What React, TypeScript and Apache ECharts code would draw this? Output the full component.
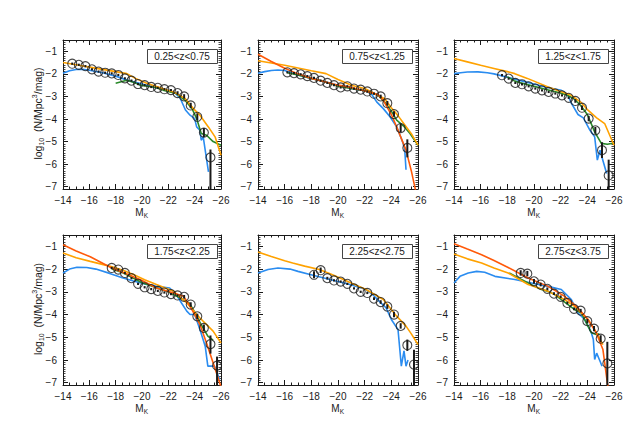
import React, { useEffect, useRef } from "react";
import * as echarts from "echarts";

// ---------- labels / ticks ----------
const panelLabels = ["0.25<z<0.75", "0.75<z<1.25", "1.25<z<1.75", "1.75<z<2.25", "2.25<z<2.75", "2.75<z<3.75"];
const yTickValues = [-7, -6, -5, -4, -3, -2, -1];
const xRange = [-26, -14];
const yRange = [-7.1, -0.5];

// ---------- panel 1 : 0.25<z<0.75 ----------
const p1Blue = [[-14,-1.97],[-14.5,-1.86],[-15,-1.81],[-15.5,-1.8],[-16,-1.84],[-17,-1.95],[-18,-2.1],[-19,-2.3],[-20,-2.45],[-21,-2.6],[-22,-2.72],[-22.5,-2.85],[-22.9,-3.08],[-23.3,-3.6],[-23.65,-3.83],[-24.0,-3.98],[-24.15,-4.35],[-24.4,-4.5],[-24.5,-4.94],[-24.65,-4.79],[-24.8,-5.38],[-25.05,-6.34]];
const p1Green = [[-18,-2.42],[-18.85,-2.28],[-19.4,-2.38],[-19.9,-2.5],[-20.4,-2.55],[-20.9,-2.58],[-21.6,-2.72],[-22.6,-2.87],[-23.27,-3.17],[-23.8,-3.54],[-24.15,-3.98],[-24.5,-4.64],[-24.9,-4.72],[-25.4,-5.0],[-26,-5.16]];
const p1Orange = [[-14,-1.5],[-15,-1.6],[-16,-1.7],[-17,-1.8],[-18,-1.9],[-18.85,-1.99],[-19.5,-2.2],[-20.4,-2.43],[-21.4,-2.62],[-22.4,-2.8],[-23.27,-3.09],[-23.9,-3.54],[-24.4,-3.83],[-25.04,-4.35],[-25.55,-4.79],[-26,-5.6]];
const p1Red: number[][] = [];
const p1M = [-14.7,-15.2,-15.7,-16.2,-16.7,-17.2,-17.7,-18.2,-18.7,-19.2,-19.7,-20.2,-20.7,-21.2,-21.7,-22.2,-22.7,-23.2,-23.7,-24.2,-24.7,-25.2];
const p1Y = [-1.55,-1.6,-1.66,-1.8,-1.9,-1.95,-1.98,-2.05,-2.2,-2.3,-2.45,-2.5,-2.58,-2.62,-2.68,-2.72,-2.85,-3.0,-3.4,-3.9,-4.6,-5.7];
const p1ErrHi = [0.05,0.05,0.05,0.05,0.05,0.05,0.05,0.05,0.05,0.05,0.05,0.05,0.05,0.05,0.05,0.05,0.08,0.1,0.12,0.15,0.2,0.35];
const p1ErrLo = [0.05,0.05,0.05,0.05,0.05,0.05,0.05,0.05,0.05,0.05,0.05,0.05,0.05,0.05,0.05,0.05,0.08,0.1,0.12,0.15,0.2,2.0];

// ---------- panel 2 : 0.75<z<1.25 ----------
const p2Blue = [[-14,-1.97],[-14.5,-1.9],[-15,-1.85],[-15.5,-1.83],[-16,-1.85],[-16.5,-1.95],[-17,-2.05],[-18,-2.2],[-19,-2.35],[-20,-2.5],[-21,-2.65],[-22,-2.75],[-22.5,-2.88],[-22.9,-3.24],[-23.4,-3.54],[-23.9,-3.9],[-24.4,-4.35],[-24.8,-4.94],[-25.0,-5.3],[-25.1,-6.25]];
const p2Green = [[-16.2,-1.95],[-17,-2.05],[-18,-2.2],[-19,-2.35],[-20,-2.55],[-21,-2.65],[-22,-2.75],[-22.5,-2.85],[-23,-2.95],[-23.5,-3.25],[-24,-3.65],[-24.4,-4.05],[-24.9,-4.3],[-25.4,-4.64],[-26,-5.16]];
const p2Orange = [[-14,-1.42],[-15,-1.52],[-16,-1.62],[-17,-1.74],[-18,-1.86],[-19.1,-1.99],[-20,-2.25],[-21,-2.5],[-22,-2.65],[-23,-2.95],[-23.5,-3.1],[-24,-3.5],[-24.5,-3.85],[-25,-4.25],[-25.5,-4.65],[-26,-5.16]];
const p2Red = [[-14,-1.13],[-15,-1.45],[-16,-1.75],[-17,-2.0],[-18,-2.2],[-19,-2.35],[-20,-2.5],[-21,-2.6],[-22.1,-2.77],[-23,-2.92],[-23.4,-3.17],[-24,-3.8],[-24.4,-4.35],[-25.1,-5.38],[-25.5,-6.3],[-25.8,-7.12],[-26,-7.5]];
const p2M = [-16.2,-16.7,-17.2,-17.7,-18.2,-18.7,-19.2,-19.7,-20.2,-20.7,-21.2,-21.7,-22.2,-22.7,-23.2,-23.7,-24.2,-24.7,-25.2];
const p2Y = [-1.93,-1.97,-2.02,-2.1,-2.18,-2.3,-2.4,-2.5,-2.6,-2.55,-2.65,-2.7,-2.78,-2.88,-3.0,-3.3,-3.78,-4.4,-5.28];
const p2ErrHi = [0.05,0.05,0.05,0.05,0.05,0.05,0.05,0.05,0.05,0.05,0.05,0.05,0.05,0.05,0.08,0.1,0.12,0.18,0.38];
const p2ErrLo = [0.05,0.05,0.05,0.05,0.05,0.05,0.05,0.05,0.05,0.05,0.05,0.05,0.05,0.05,0.08,0.1,0.12,0.18,0.42];

// ---------- panel 3 : 1.25<z<1.75 ----------
const p3Blue = [[-14,-1.99],[-14.5,-1.95],[-15,-1.92],[-15.8,-1.91],[-16.5,-1.95],[-17,-2.0],[-18,-2.15],[-19,-2.3],[-20,-2.45],[-21,-2.6],[-22.05,-2.73],[-22.5,-2.9],[-22.8,-3.3],[-23.3,-3.8],[-23.7,-3.95],[-24.2,-4.5],[-24.55,-4.79],[-24.75,-5.82],[-24.95,-5.38],[-25.2,-5.9],[-25.45,-6.41]];
const p3Green = [[-18,-2.13],[-18.5,-2.3],[-19,-2.4],[-20,-2.55],[-21,-2.7],[-22,-2.85],[-22.5,-2.95],[-23,-3.1],[-23.5,-3.4],[-24,-3.8],[-24.55,-4.57],[-25.05,-5.08],[-25.5,-5.12],[-26,-5.06]];
const p3Orange = [[-14,-1.32],[-15,-1.47],[-16,-1.62],[-17,-1.76],[-18,-1.9],[-18.56,-1.99],[-19.5,-2.2],[-21.06,-2.58],[-22,-2.78],[-22.8,-2.95],[-23.5,-3.25],[-24.05,-3.61],[-24.7,-3.95],[-25.3,-4.2],[-26,-5.16]];
const p3Red: number[][] = [];
const p3M = [-17.6,-18.1,-18.6,-19.1,-19.6,-20.1,-20.6,-21.1,-21.6,-22.1,-22.6,-23.1,-23.6,-24.1,-24.6,-25.1,-25.6];
const p3Y = [-2.06,-2.21,-2.4,-2.46,-2.55,-2.65,-2.73,-2.8,-2.87,-2.95,-3.06,-3.2,-3.5,-3.98,-4.5,-5.38,-6.5];
const p3ErrHi = [0.05,0.05,0.05,0.05,0.05,0.05,0.05,0.05,0.05,0.05,0.05,0.08,0.1,0.12,0.15,0.35,0.7];
const p3ErrLo = [0.05,0.05,0.05,0.05,0.05,0.05,0.05,0.05,0.05,0.05,0.05,0.08,0.1,0.12,0.15,0.35,1.5];

// ---------- panel 4 : 1.75<z<2.25 ----------
const p4Blue = [[-14,-2.17],[-14.5,-2.0],[-15.06,-1.92],[-15.8,-1.93],[-16.5,-2.0],[-17.6,-2.2],[-18.5,-2.38],[-19.35,-2.52],[-20.2,-2.65],[-21.1,-2.76],[-22.1,-2.83],[-22.6,-3.12],[-23.0,-3.49],[-23.4,-3.85],[-23.65,-4.0],[-24.0,-4.0],[-24.4,-4.66],[-24.8,-5.39],[-25.0,-6.27],[-25.5,-6.27],[-25.9,-6.86]];
const p4Green = [[-17.7,-2.0],[-18.5,-2.15],[-19,-2.3],[-19.5,-2.45],[-20,-2.6],[-21,-2.8],[-22,-3.0],[-22.5,-3.15],[-23,-3.3],[-23.6,-3.5],[-24,-3.9],[-24.5,-4.45],[-25,-4.95],[-25.4,-5.13]];
const p4Orange = [[-14,-1.29],[-15,-1.5],[-16.07,-1.66],[-17.6,-1.88],[-18.5,-2.04],[-19.35,-2.24],[-20.2,-2.47],[-21.1,-2.68],[-22.4,-2.98],[-23.4,-3.49],[-24.4,-4.15],[-25.4,-4.73],[-26,-5.25]];
const p4Red = [[-14,-0.93],[-15,-1.2],[-16.07,-1.46],[-17.7,-1.95],[-19,-2.25],[-20,-2.5],[-21.1,-2.83],[-22.4,-3.05],[-23.15,-3.2],[-23.5,-3.49],[-24.0,-4.0],[-24.4,-4.44],[-24.9,-5.25],[-25.4,-6.12],[-25.9,-7.0],[-26,-7.2]];
const p4M = [-17.7,-18.2,-18.7,-19.2,-19.7,-20.2,-20.7,-21.2,-21.7,-22.2,-22.7,-23.2,-23.7,-24.2,-24.7,-25.2,-25.7];
const p4Y = [-1.95,-2.02,-2.17,-2.4,-2.65,-2.8,-2.88,-2.96,-3.03,-3.1,-3.16,-3.22,-3.56,-4.08,-4.59,-5.3,-6.25];
const p4ErrHi = [0.05,0.05,0.05,0.05,0.05,0.05,0.05,0.05,0.05,0.05,0.05,0.08,0.1,0.12,0.15,0.38,0.4];
const p4ErrLo = [0.05,0.05,0.05,0.05,0.05,0.05,0.05,0.05,0.05,0.05,0.05,0.08,0.1,0.12,0.15,0.42,1.5];

// ---------- panel 5 : 2.25<z<2.75 ----------
const p5Blue = [[-14,-2.17],[-14.75,-2.02],[-15.5,-1.95],[-16.4,-2.0],[-17,-2.1],[-17.9,-2.24],[-19.4,-2.46],[-20.9,-2.68],[-22.1,-2.9],[-22.6,-3.12],[-23.1,-3.42],[-23.6,-3.7],[-24.0,-4.22],[-24.5,-4.66],[-24.75,-6.27],[-24.95,-5.6],[-25.1,-6.27],[-25.25,-6.0]];
const p5Green: number[][] = [];
const p5Orange = [[-14,-1.25],[-15,-1.45],[-16,-1.63],[-16.6,-1.73],[-17.5,-1.87],[-18.6,-2.02],[-19.5,-2.23],[-20.4,-2.46],[-21.2,-2.67],[-22.1,-2.9],[-23.4,-3.34],[-24.4,-4.07],[-25.1,-4.51],[-25.5,-4.85],[-26,-5.32]];
const p5Red: number[][] = [];
const p5M = [-18.2,-18.7,-19.2,-19.7,-20.2,-20.7,-21.2,-21.7,-22.2,-22.7,-23.2,-23.7,-24.2,-24.7,-25.2,-25.7];
const p5Y = [-2.25,-2.05,-2.4,-2.5,-2.55,-2.65,-2.85,-3.0,-3.05,-3.3,-3.45,-3.65,-4.0,-4.5,-5.35,-6.2];
const p5ErrHi = [0.15,0.12,0.06,0.05,0.05,0.05,0.05,0.05,0.05,0.06,0.08,0.1,0.12,0.12,0.25,0.65];
const p5ErrLo = [0.15,0.12,0.06,0.05,0.05,0.05,0.05,0.05,0.05,0.06,0.08,0.1,0.12,0.12,0.25,1.5];

// ---------- panel 6 : 2.75<z<3.75 ----------
const p6Blue = [[-14,-2.61],[-14.45,-2.32],[-15.07,-2.17],[-15.7,-2.1],[-16.3,-2.14],[-17.07,-2.32],[-18.56,-2.46],[-19.8,-2.61],[-21.06,-2.76],[-22.05,-2.9],[-22.8,-3.34],[-23.3,-3.93],[-23.8,-4.22],[-24.3,-4.8],[-24.45,-5.1],[-24.55,-5.98],[-24.7,-5.7],[-25.0,-6.12],[-25.1,-6.27]];
const p6Green = [[-18.14,-2.17],[-19.06,-2.46],[-20.06,-2.76],[-20.56,-2.9],[-21.06,-2.98],[-21.56,-3.12],[-22.05,-3.34],[-22.55,-3.56],[-23.05,-3.78],[-23.55,-3.93],[-24.05,-4.51],[-24.3,-4.8],[-24.67,-4.88],[-24.9,-4.85]];
const p6Orange = [[-14,-1.34],[-15,-1.55],[-16.07,-1.73],[-17,-1.95],[-18.06,-2.17],[-19.56,-2.68],[-21.06,-2.98],[-22.3,-3.34],[-23.05,-3.64],[-24.05,-4.22],[-24.55,-4.66],[-25.17,-5.32]];
const p6Red = [[-14,-0.88],[-15,-1.12],[-16.07,-1.37],[-17,-1.62],[-18.06,-1.93],[-19.56,-2.39],[-21.06,-2.76],[-22.3,-3.2],[-23.3,-3.71],[-24.05,-4.22],[-24.67,-4.8],[-25.17,-5.54],[-25.5,-7.0],[-25.6,-7.3]];
const p6M = [-19.0,-19.5,-20.0,-20.5,-21.0,-21.5,-22.0,-22.5,-23.0,-23.5,-24.0,-24.5,-25.0,-25.5];
const p6Y = [-2.17,-2.2,-2.54,-2.68,-2.87,-3.08,-3.22,-3.49,-3.75,-3.83,-4.29,-4.62,-5.06,-6.15];
const p6ErrHi = [0.12,0.12,0.1,0.08,0.06,0.06,0.06,0.06,0.06,0.08,0.1,0.12,0.15,0.95];
const p6ErrLo = [0.12,0.12,0.1,0.08,0.06,0.06,0.06,0.06,0.06,0.08,0.1,0.12,0.15,1.5];

const panels = [
  { blue: p1Blue, green: p1Green, orange: p1Orange, red: p1Red, m: p1M, y: p1Y, hi: p1ErrHi, lo: p1ErrLo },
  { blue: p2Blue, green: p2Green, orange: p2Orange, red: p2Red, m: p2M, y: p2Y, hi: p2ErrHi, lo: p2ErrLo },
  { blue: p3Blue, green: p3Green, orange: p3Orange, red: p3Red, m: p3M, y: p3Y, hi: p3ErrHi, lo: p3ErrLo },
  { blue: p4Blue, green: p4Green, orange: p4Orange, red: p4Red, m: p4M, y: p4Y, hi: p4ErrHi, lo: p4ErrLo },
  { blue: p5Blue, green: p5Green, orange: p5Orange, red: p5Red, m: p5M, y: p5Y, hi: p5ErrHi, lo: p5ErrLo },
  { blue: p6Blue, green: p6Green, orange: p6Orange, red: p6Red, m: p6M, y: p6Y, hi: p6ErrHi, lo: p6ErrLo },
];

const COLORS = { blue: "#2a8cf0", green: "#2a8a2a", orange: "#ffa200", red: "#ff5a0a" };
const INK = "#1a1a1a";
const FONT = "'Liberation Sans', Arial, Helvetica, sans-serif";

const colLeft = [63, 258, 454];
const colWidth = [158, 160, 160];
const rowTop = [40, 235];
const rowHeight = [149, 150];

function buildOption() {
  const grid: any[] = [];
  const xAxis: any[] = [];
  const yAxis: any[] = [];
  const series: any[] = [];
  const graphic: any[] = [];

  const yMinor: number[] = [];
  for (let k = -71; k <= -5; k++) yMinor.push(k / 10);

  const fmt = (v: number) => "\u2212" + Math.abs(v);

  panels.forEach((p, i) => {
    const r = Math.floor(i / 3);
    const c = i % 3;
    const left = colLeft[c];
    const top = rowTop[r];
    const w = colWidth[c];
    const h = rowHeight[r];
    grid.push({ left, top, width: w, height: h, containLabel: false });

    const xBase = (pos: string, labels: boolean) => ({
      type: "value",
      gridIndex: i,
      min: xRange[0],
      max: xRange[1],
      interval: 2,
      inverse: true,
      position: pos,
      axisLine: { show: true, onZero: false, lineStyle: { color: INK, width: 1 } },
      axisTick: { show: true, inside: true, length: 5, lineStyle: { color: INK, width: 1 } },
      minorTick: { show: true, splitNumber: 4, length: 2.5, lineStyle: { color: INK, width: 1 } },
      axisLabel: { show: labels, formatter: fmt, color: INK, fontSize: 10, margin: 6, fontFamily: FONT },
      splitLine: { show: false },
      minorSplitLine: { show: false },
    });
    xAxis.push(xBase("bottom", true));
    xAxis.push(xBase("top", false));

    const yBase = (pos: string, major: boolean, labels: boolean) => ({
      type: "value",
      gridIndex: i,
      min: yRange[0],
      max: yRange[1],
      position: pos,
      axisLine: { show: major, onZero: false, lineStyle: { color: INK, width: 1 } },
      axisTick: {
        show: true,
        inside: true,
        length: major ? 5 : 2.5,
        customValues: major ? yTickValues : yMinor,
        lineStyle: { color: INK, width: major ? 1 : 0.8 },
      },
      axisLabel: {
        show: labels,
        customValues: yTickValues,
        formatter: fmt,
        color: INK,
        fontSize: 10,
        margin: 6,
        fontFamily: FONT,
      },
      splitLine: { show: false },
    });
    yAxis.push(yBase("left", true, true));
    yAxis.push(yBase("left", false, false));
    yAxis.push(yBase("right", true, false));
    yAxis.push(yBase("right", false, false));

    const xi = 2 * i;
    const yi = 4 * i;
    const line = (data: number[][], color: string, z: number) => ({
      type: "line",
      xAxisIndex: xi,
      yAxisIndex: yi,
      data,
      symbol: "none",
      showSymbol: false,
      clip: true,
      silent: true,
      z,
      lineStyle: { color, width: 1.6 },
    });
    if (p.blue.length) series.push(line(p.blue, COLORS.blue, 2));
    if (p.green.length) series.push(line(p.green, COLORS.green, 3));
    if (p.orange.length) series.push(line(p.orange, COLORS.orange, 4));
    if (p.red.length) series.push(line(p.red, COLORS.red, 4));

    series.push({
      type: "custom",
      xAxisIndex: xi,
      yAxisIndex: yi,
      clip: false,
      silent: true,
      z: 6,
      data: p.m.map((m, k) => [m, p.y[k], p.lo[k], p.hi[k]]),
      encode: { x: 0, y: 1 },
      renderItem: (_params: any, api: any) => {
        const x = api.value(0);
        const y = api.value(1);
        const lo = api.value(2);
        const hi = api.value(3);
        const yHi = Math.min(yRange[1], y + hi);
        const yLo = Math.max(yRange[0], y - lo);
        const a = api.coord([x, yHi]);
        const b = api.coord([x, yLo]);
        return {
          type: "line",
          shape: { x1: a[0], y1: a[1], x2: b[0], y2: b[1] },
          style: { stroke: INK, lineWidth: 2 },
        };
      },
    });

    series.push({
      type: "scatter",
      xAxisIndex: xi,
      yAxisIndex: yi,
      data: p.m.map((m, k) => [m, p.y[k]]),
      symbol: "circle",
      symbolSize: 9,
      silent: true,
      z: 7,
      itemStyle: { color: "rgba(255,255,255,0)", borderColor: INK, borderWidth: 1.1 },
    });

    // redshift label box
    graphic.push({
      type: "rect",
      left: left + 84,
      top: top + 9,
      shape: { width: 70, height: 14 },
      style: { fill: "#fff", stroke: "#444", lineWidth: 1 },
      z: 10,
    });
    graphic.push({
      type: "text",
      x: left + 84 + 35,
      y: top + 9 + 7.5,
      style: {
        text: panelLabels[i],
        fill: INK,
        font: `10px ${FONT}`,
        align: "center",
        verticalAlign: "middle",
      },
      z: 11,
    });

    // x axis title M_K (M with subscript K)
    const cx = left + w / 2;
    const cy = top + h + 23;
    graphic.push({
      type: "text",
      x: cx + 1.5,
      y: cy,
      style: { text: "M", fill: INK, font: `10px ${FONT}`, align: "right", verticalAlign: "middle" },
      z: 11,
    });
    graphic.push({
      type: "text",
      x: cx + 1.8,
      y: cy + 3,
      style: { text: "K", fill: INK, font: `6.5px ${FONT}`, align: "left", verticalAlign: "middle" },
      z: 11,
    });
  });

  // y axis titles (left column)
  [0, 1].forEach((r) => {
    graphic.push({
      type: "text",
      x: 38,
      y: rowTop[r] + rowHeight[r] / 2 - 1,
      rotation: Math.PI / 2,
      style: {
        text: "{a|log}{s|10}{a|  (N/Mpc}{p|3}{a|/mag)}",
        fill: INK,
        align: "center",
        verticalAlign: "middle",
        rich: {
          a: { fontSize: 10.5, lineHeight: 14, verticalAlign: "middle", fill: INK, fontFamily: FONT },
          s: { fontSize: 7, lineHeight: 7, verticalAlign: "bottom", fill: INK, fontFamily: FONT },
          p: { fontSize: 7, lineHeight: 7, verticalAlign: "top", fill: INK, fontFamily: FONT },
        },
      },
      z: 11,
    });
  });

  return {
    animation: false,
    backgroundColor: "#ffffff",
    grid,
    xAxis,
    yAxis,
    series,
    graphic,
  };
}

export default function App() {
  const ref = useRef<HTMLDivElement>(null);
  useEffect(() => {
    if (!ref.current) return;
    const chart = echarts.init(ref.current, undefined, { renderer: "svg" });
    chart.setOption(buildOption() as any);
    return () => chart.dispose();
  }, []);
  return (
    <div
      ref={ref}
      style={{ position: "fixed", left: 0, top: 0, width: 635, height: 434, background: "#fff" }}
    />
  );
}
